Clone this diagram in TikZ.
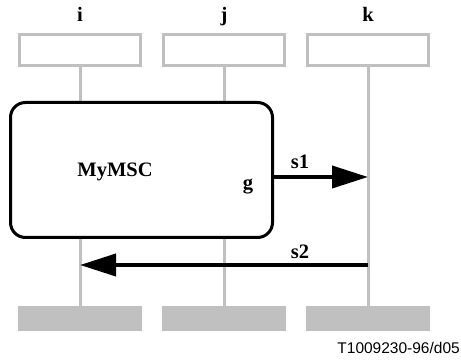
\documentclass[tikz,border=0pt]{standalone}
\usepackage{fontspec}
\setmainfont{Liberation Serif}
\setsansfont{Liberation Sans}
\usetikzlibrary{arrows.meta}
\definecolor{llgray}{HTML}{C0C0C0}
\begin{document}
\begin{tikzpicture}[x=1pt,y=-1pt,
  headbox/.style={draw=llgray,line width=3pt,minimum width=121pt,minimum height=31pt,inner sep=0pt},
  endbox/.style={fill=llgray,minimum width=124pt,minimum height=25pt,inner sep=0pt},
  lifeline/.style={draw=llgray,line width=3pt},
  lbl/.style={font=\fontsize{20.5}{20.5}\selectfont\bfseries,inner sep=0pt},
  msg/.style={line width=4pt,-{Triangle[length=36pt,width=22pt]}}]
\useasboundingbox (0,0) rectangle (461,363);
% instance heads
\node[headbox] (hi) at (80,50) {};
\node[headbox] (hj) at (224,50) {};
\node[headbox] (hk) at (368,50) {};
\node[lbl,anchor=base] (ni) at (80,22) {i};
\node[lbl,anchor=base] (nj) at (224,22) {j};
\node[lbl,anchor=base] (nk) at (368,22) {k};
% instance ends
\node[endbox] (ei) at (80,318.5) {};
\node[endbox] (ej) at (224,318.5) {};
\node[endbox] (ek) at (368,318.5) {};
% lifelines
\draw[lifeline] (hi.south) -- (ei.north);
\draw[lifeline] (hj.south) -- (ej.north);
\draw[lifeline] (hk.south) -- (ek.north);
% reference box
\node[draw=black,fill=white,line width=3pt,rounded corners=15pt,minimum width=262pt,minimum height=135pt,inner sep=0pt] (ref) at (141.5,170) {};
\node[lbl] (mymsc) at (115,172) {MyMSC};
\node[lbl] (g) at (248,187) {g};
% messages
\coordinate (s1a) at (ref.east |- 0,177);
\coordinate (s1b) at (hk.south |- 0,177);
\draw[msg] (s1a) -- (s1b);
\node[lbl] (s1) at (300,162) {s1};
\coordinate (s2a) at (hk.south |- 0,265);
\coordinate (s2b) at (hi.south |- 0,265);
\draw[msg] (s2a) -- (s2b);
\node[lbl] (s2) at (300,252) {s2};
% caption
\node[font=\sffamily\fontsize{15.5}{15.5}\selectfont,anchor=base east,inner sep=0pt] (cap) at (460,354) {T1009230-96/d05};
\end{tikzpicture}
\end{document}
